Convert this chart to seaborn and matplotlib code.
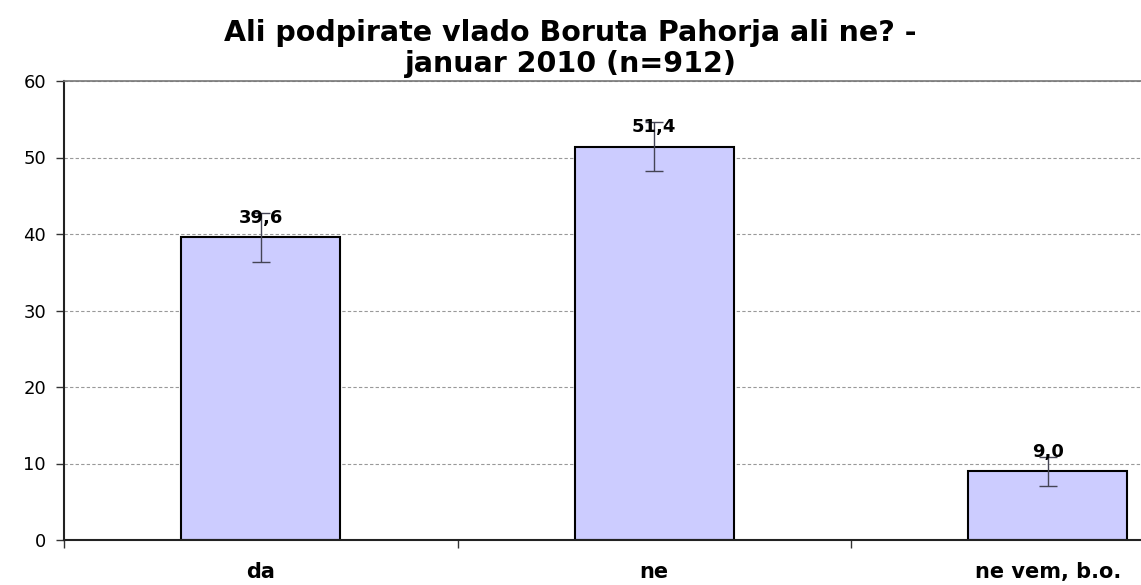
import numpy as np
import pandas as pd
import matplotlib
matplotlib.use("Agg")
import matplotlib.pyplot as plt
import seaborn as sns

# podatki
kategorije = ["da", "ne", "ne vem, b.o."]
odstotki = [39.6, 51.4, 9.0]
napake = [3.2, 3.2, 1.9]
y_ticks = [0, 10, 20, 30, 40, 50, 60]
naslov = ["Ali podpirate vlado Boruta Pahorja ali ne? -", "januar 2010 (n=912)"]

sns.set_style("white")
plt.rcParams["font.family"] = ["DejaVu Sans"]
plt.rcParams["text.color"] = "black"
plt.rcParams["xtick.color"] = "black"
plt.rcParams["ytick.color"] = "black"

df = pd.DataFrame({"kategorija": kategorije, "odstotek": odstotki})

fig = plt.figure(figsize=(11.41, 5.85), dpi=100)
# plot area is cut off at the right edge in the original
ax = fig.add_axes([64 / 1141, 1 - 540 / 585, 1180.5 / 1141, 459 / 585])

sns.barplot(data=df, x="kategorija", y="odstotek", ax=ax, color="#ccccff",
            width=0.405, edgecolor="black", linewidth=1.5, errorbar=None,
            saturation=1)
ax.errorbar(np.arange(len(odstotki)), odstotki, yerr=napake, fmt="none",
            ecolor="#444455", elinewidth=1, capsize=6.5, capthick=1)

for i, v in enumerate(odstotki):
    ax.text(i, v + 1.9, f"{v:.1f}".replace(".", ","), ha="center", va="baseline",
            fontsize=13, fontweight="bold", color="black")

ax.set_xlim(-0.5, 2.5)
ax.set_ylim(0, 60)
ax.set_yticks(y_ticks)
ax.set_yticklabels([str(t) for t in y_ticks], fontsize=13)
ax.yaxis.grid(True, linestyle=(0, (3, 2)), color="#999999", linewidth=0.8)
ax.set_axisbelow(True)

ax.set_xticks(range(len(kategorije)))
ax.set_xticklabels(kategorije, fontsize=15, fontweight="bold")
ax.set_xticks([-0.5, 0.5, 1.5], minor=True)
ax.tick_params(axis="x", which="major", length=0, pad=16)
ax.tick_params(axis="x", which="minor", length=6, width=1, color="#333333",
               direction="out", bottom=True)
ax.tick_params(axis="y", length=6, width=1, color="#333333", direction="out",
               left=True, pad=7)
ax.set_xlabel("")
ax.set_ylabel("")

for s in ["left", "bottom"]:
    ax.spines[s].set_color("#222222")
    ax.spines[s].set_linewidth(1.5)
ax.spines["top"].set_color("#777777")
ax.spines["top"].set_linewidth(1.2)
ax.spines["right"].set_visible(False)

fig.text(0.5, 1 - 41 / 585, naslov[0], ha="center", va="baseline",
         fontsize=20.5, fontweight="bold")
fig.text(0.5, 1 - 72 / 585, naslov[1], ha="center", va="baseline",
         fontsize=20.5, fontweight="bold")

plt.savefig("out.png", dpi=100)
plt.close()
